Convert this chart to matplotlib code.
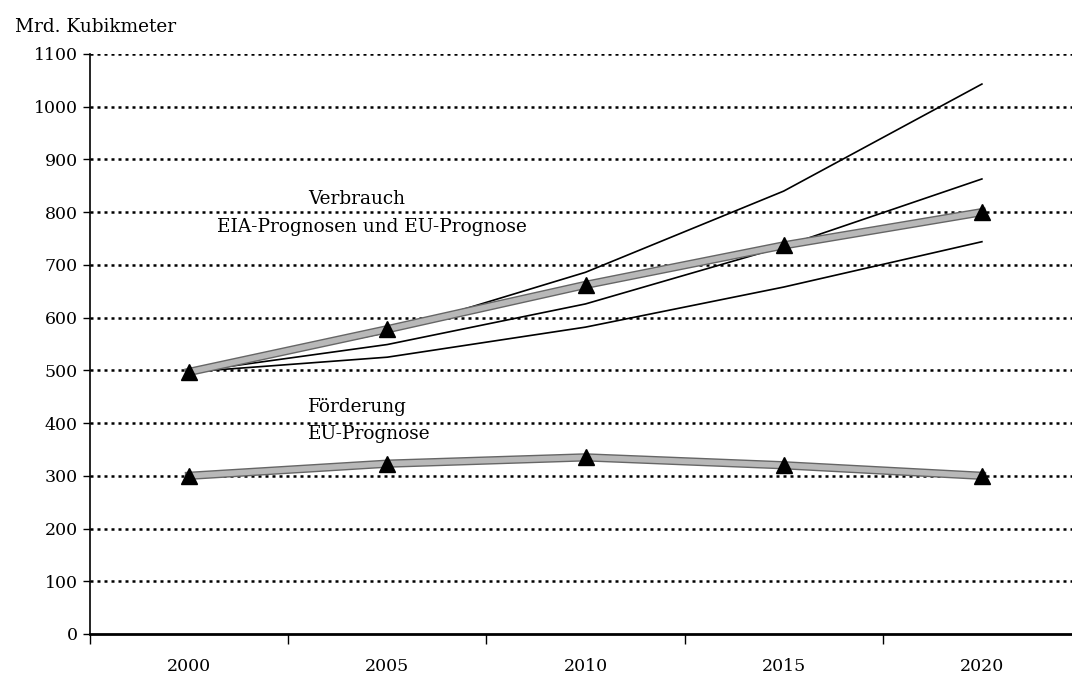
import numpy as np
import matplotlib
matplotlib.use("Agg")
import matplotlib.pyplot as plt
import matplotlib.patheffects as pe

plt.rcParams['font.family'] = ['DejaVu Serif']

jahre = ['2000', '2005', '2010', '2015', '2020']
verbrauch_eu = [497, 578, 662, 737, 800]
eia_hoch = [497, 572, 686, 840, 1043]
eia_mitte = [497, 549, 626, 735, 863]
eia_tief = [497, 525, 582, 658, 744]
foerderung_eu = [300, 323, 335, 320, 300]

fig = plt.figure(figsize=(10.72, 6.79), dpi=100)
ax = fig.add_axes([90 / 1072, 45 / 679, 991 / 1072, 580 / 679])

x = np.arange(len(jahre))

# Gitterlinien
for v in range(100, 1101, 100):
    ax.axhline(v, color='black', lw=1.8, ls=(0, (1.2, 1.6)), zorder=1)

# EIA-Prognosen
for serie in (eia_hoch, eia_mitte, eia_tief):
    ax.plot(x, serie, color='black', lw=1.2, zorder=3)

# EU-Prognosen (graue breite Linie mit Dreiecken)
grau = [pe.Stroke(linewidth=6, foreground='#666666'), pe.Normal()]
for serie in (verbrauch_eu, foerderung_eu):
    ax.plot(x, serie, color='#b8b8b8', lw=4, zorder=4, path_effects=grau)
    ax.plot(x, serie, ls='none', marker='^', ms=11, color='black', zorder=5)

ax.set_xlim(-0.5, 4.5)
ax.set_ylim(0, 1100)
ax.set_yticks(range(0, 1101, 100))
ax.tick_params(axis='y', labelsize=12.5, length=5, width=1, direction='out', pad=4)

ax.set_xticks(np.arange(-0.5, 4.6, 1))
ax.set_xticklabels([])
ax.set_xticks(x, minor=True)
ax.set_xticklabels(jahre, minor=True)
ax.tick_params(axis='x', which='major', length=7, width=1, direction='out')
ax.tick_params(axis='x', which='minor', length=0, labelsize=12.5, pad=17)

for s in ('top', 'right'):
    ax.spines[s].set_visible(False)
ax.spines['left'].set_linewidth(1.2)
ax.spines['bottom'].set_linewidth(2)

fs = 13.3
ax.text(0.847, 825, 'Verbrauch', ha='center', va='center', fontsize=fs)
ax.text(0.922, 772, 'EIA-Prognosen und EU-Prognose', ha='center', va='center', fontsize=fs)
ax.text(0.847, 430, 'Förderung', ha='center', va='center', fontsize=fs)
ax.text(0.91, 379, 'EU-Prognose', ha='center', va='center', fontsize=fs)

fig.text(15 / 1072, 1 - 27 / 679, 'Mrd. Kubikmeter', ha='left', va='center', fontsize=fs)

fig.savefig('out.png', dpi=100)
